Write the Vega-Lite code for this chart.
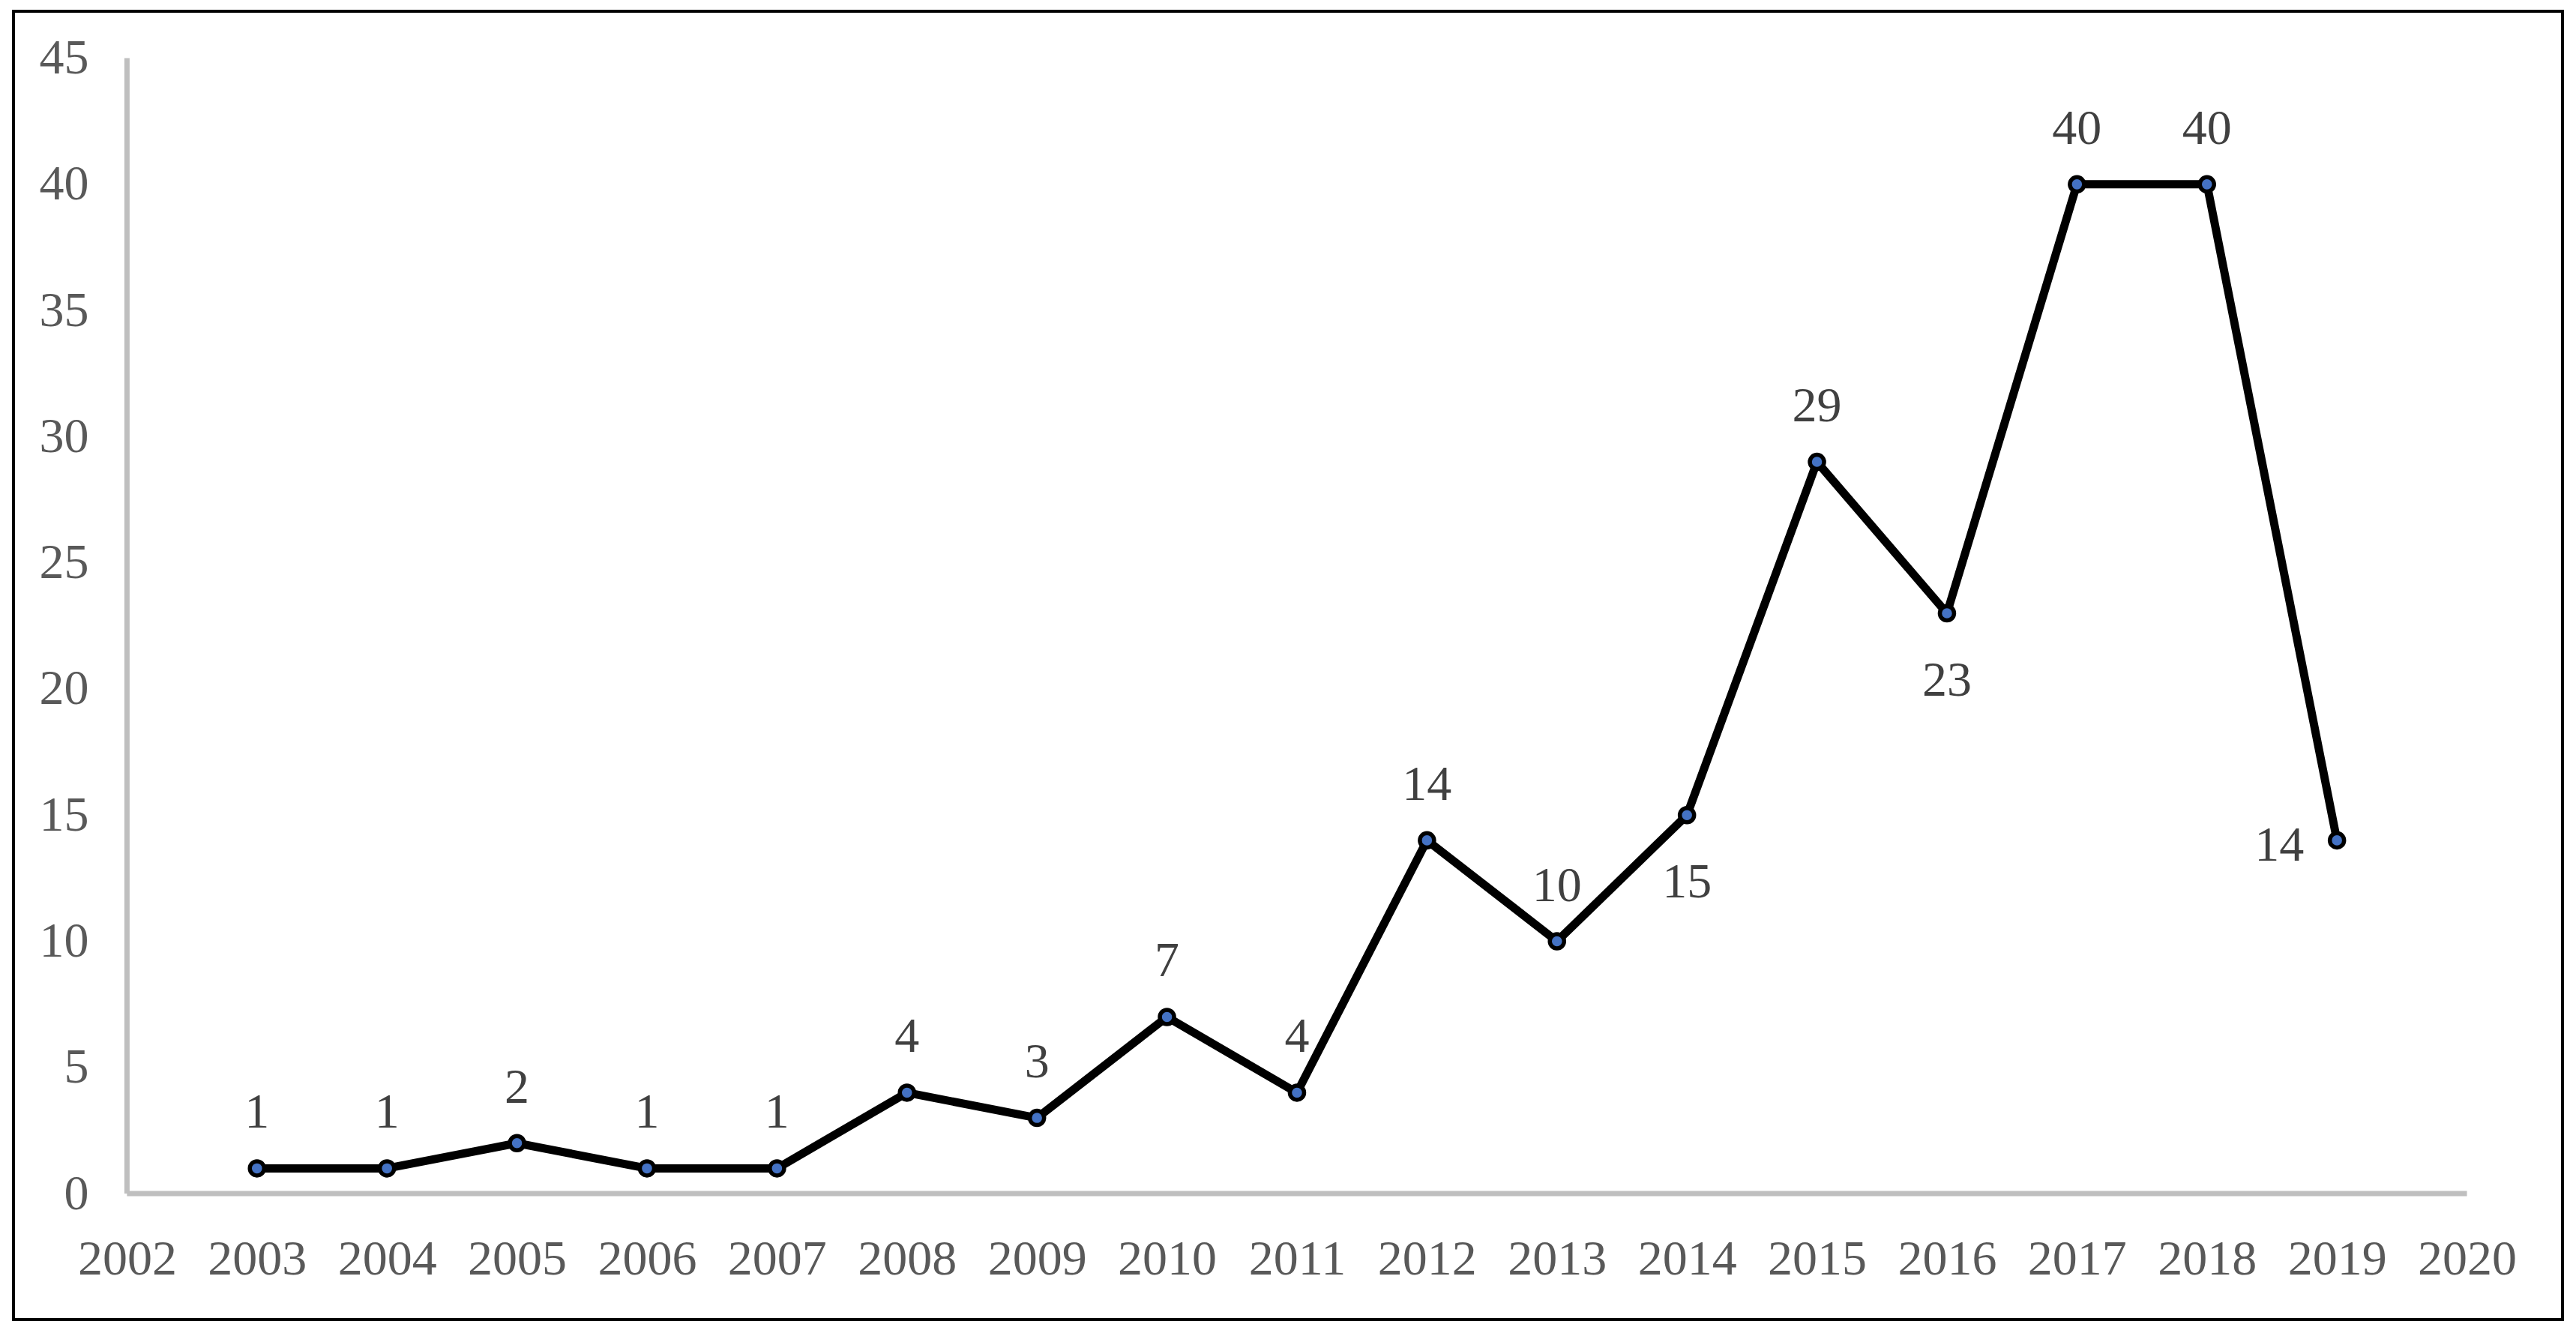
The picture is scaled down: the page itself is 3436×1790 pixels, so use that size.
{
  "$schema": "https://vega.github.io/schema/vega-lite/v6.json",
  "width": 3400,
  "height": 1745,
  "autosize": {"type": "none"},
  "padding": {"left": 18, "top": 15, "right": 18, "bottom": 30},
  "background": "white",
  "config": {
    "view": {"stroke": "#000000", "strokeWidth": 4},
    "font": "Liberation Serif"
  },
  "data": {
    "values": [
      {"year": 2003, "count": 1},
      {"year": 2004, "count": 1},
      {"year": 2005, "count": 2},
      {"year": 2006, "count": 1},
      {"year": 2007, "count": 1},
      {"year": 2008, "count": 4},
      {"year": 2009, "count": 3},
      {"year": 2010, "count": 7},
      {"year": 2011, "count": 4},
      {"year": 2012, "count": 14},
      {"year": 2013, "count": 10},
      {"year": 2014, "count": 15},
      {"year": 2015, "count": 29},
      {"year": 2016, "count": 23},
      {"year": 2017, "count": 40},
      {"year": 2018, "count": 40},
      {"year": 2019, "count": 14}
    ]
  },
  "encoding": {
    "x": {
      "field": "year",
      "type": "quantitative",
      "scale": {"domain": [2001.127, 2020.735], "nice": false, "zero": false},
      "axis": {
        "values": [2002, 2003, 2004, 2005, 2006, 2007, 2008, 2009, 2010, 2011, 2012, 2013, 2014, 2015, 2016, 2017, 2018, 2019, 2020],
        "format": "d",
        "domain": false,
        "grid": false,
        "ticks": false,
        "tickSize": 0,
        "labelPadding": -81,
        "labelBaseline": "middle",
        "labelFontSize": 66,
        "labelColor": "#595959",
        "labelFont": "Liberation Serif",
        "labelFlush": false,
        "labelOverlap": false,
        "title": null
      }
    },
    "y": {
      "field": "count",
      "type": "quantitative",
      "scale": {"domain": [-4.99, 46.86], "nice": false, "zero": false},
      "axis": {
        "values": [0, 5, 10, 15, 20, 25, 30, 35, 40, 45],
        "domain": false,
        "grid": false,
        "ticks": false,
        "tickSize": 0,
        "labelPadding": -100,
        "labelAlign": "right",
        "labelBaseline": "middle",
        "labelFontSize": 66,
        "labelColor": "#595959",
        "labelFont": "Liberation Serif",
        "labelFlush": false,
        "labelOverlap": false,
        "title": null
      }
    }
  },
  "layer": [
    {
      "data": {"values": [{"year": 2002, "year2": 2020, "count": 0}]},
      "mark": {"type": "rule", "color": "#BFBFBF", "strokeWidth": 7, "strokeCap": "butt"},
      "encoding": {"x2": {"field": "year2"}}
    },
    {
      "data": {"values": [{"year": 2002, "count": 0, "count2": 45}]},
      "mark": {"type": "rule", "color": "#BFBFBF", "strokeWidth": 7, "strokeCap": "butt"},
      "encoding": {"y2": {"field": "count2"}}
    },
    {
      "mark": {"type": "line", "color": "#000000", "strokeWidth": 11, "strokeJoin": "round"},
      "encoding": {}
    },
    {
      "mark": {"type": "point", "filled": true, "fill": "#4472C4", "stroke": "#000000", "strokeWidth": 5.5, "size": 363, "opacity": 1, "shape": "circle"},
      "encoding": {}
    },
    {
      "transform": [{"filter": "datum.year != 2014 && datum.year != 2016 && datum.year != 2019"}],
      "mark": {"type": "text", "font": "Liberation Serif", "fontSize": 66, "color": "#404040", "baseline": "middle", "align": "center", "dy": -74},
      "encoding": {"text": {"field": "count", "type": "quantitative"}}
    },
    {
      "transform": [{"filter": "datum.year == 2014 || datum.year == 2016"}],
      "mark": {"type": "text", "font": "Liberation Serif", "fontSize": 66, "color": "#404040", "baseline": "middle", "align": "center", "dy": 90},
      "encoding": {"text": {"field": "count", "type": "quantitative"}}
    },
    {
      "transform": [{"filter": "datum.year == 2019"}],
      "mark": {"type": "text", "font": "Liberation Serif", "fontSize": 66, "color": "#404040", "baseline": "middle", "align": "right", "dx": -44, "dy": 7},
      "encoding": {"text": {"field": "count", "type": "quantitative"}}
    }
  ]
}
